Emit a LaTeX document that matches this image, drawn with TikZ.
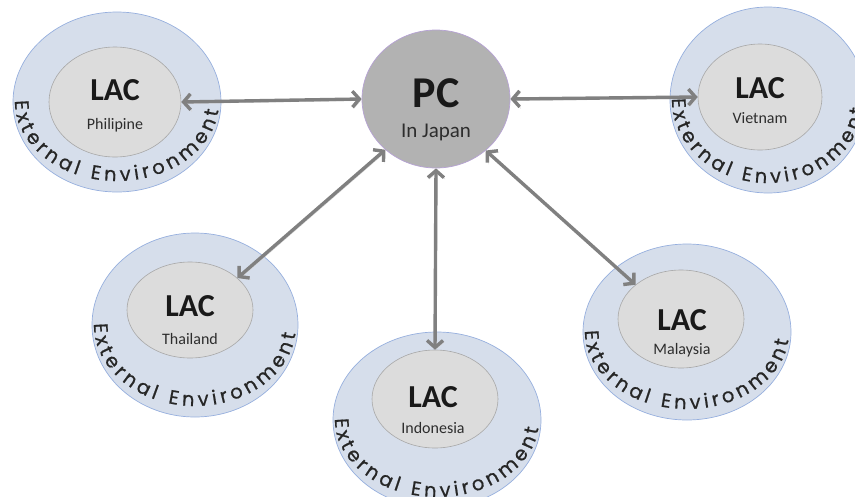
\documentclass[tikz,border=0pt]{standalone}
\usepackage{fontspec}
\setmainfont{Carlito}
\newfontfamily\extfont[FakeBold=0.7]{Poppins}
\usetikzlibrary{shapes.geometric,arrows.meta,decorations.text,calc}
\definecolor{ringfill}{RGB}{214,222,235}
\definecolor{ringdraw}{RGB}{150,175,222}
\definecolor{lacin}{RGB}{220,220,220}
\definecolor{lacout}{RGB}{195,195,195}
\definecolor{lacdraw}{RGB}{168,168,168}
\definecolor{pcfill}{RGB}{178,178,178}
\definecolor{pcdraw}{RGB}{182,162,212}
\definecolor{arrowc}{RGB}{128,128,128}
\definecolor{labc}{RGB}{45,45,45}
\pgfdeclareradialshading{lacshade}{\pgfpoint{0bp}{0bp}}{color(0bp)=(lacin); color(28bp)=(lacin); color(50bp)=(lacout)}
\newcommand\envtext[3]{%
  \path[decorate,decoration={text along path,text align=fit to path,
    text={|\extfont\fontsize{19.5}{20}\selectfont\color{black!85}|External Environment}}]
    ($(#1)+(179:#2 and #3)$) arc[start angle=179,end angle=354,x radius=#2,y radius=#3];}
\begin{document}
\begin{tikzpicture}[x=1pt,y=1pt,
  ring/.style={ellipse,draw=ringdraw,line width=0.7pt,fill=ringfill,inner sep=0pt},
  lac/.style={ellipse,draw=lacdraw,line width=0.6pt,shading=lacshade,inner sep=0pt},
  pcnode/.style={ellipse,draw=pcdraw,line width=0.7pt,fill=pcfill,inner sep=0pt},
  lactitle/.style={font=\bfseries\fontsize{32}{32}\selectfont,text=black!90,inner sep=0pt},
  lacname/.style={font=\fontsize{16}{16}\selectfont,text=labc,inner sep=0pt},
  biarrow/.style={draw=arrowc,line width=3.4pt,
    {Straight Barb[length=7pt,width=16pt]}-{Straight Barb[length=7pt,width=16pt]},
    preaction={draw=black!16,transform canvas={shift={(1.2pt,-1.6pt)}}}}]
\useasboundingbox (0,0) rectangle (855,-496);
% outer rings
\node[ring,minimum width=208,minimum height=180] (phiO) at (117,-102) {};
\node[ring,minimum width=196,minimum height=186] (vieO) at (768,-100) {};
\node[ring,minimum width=206,minimum height=184] (thaO) at (195,-325) {};
\node[ring,minimum width=208,minimum height=176] (indO) at (437,-420) {};
\node[ring,minimum width=208,minimum height=176] (malO) at (687,-332) {};
\envtext{phiO}{102pt}{79pt}
\envtext{vieO}{96pt}{83pt}
\envtext{thaO}{101pt}{81pt}
\envtext{indO}{102pt}{77pt}
\envtext{malO}{102pt}{77pt}
% inner LAC ellipses
\node[lac,minimum width=132,minimum height=110] (phi) at (115,-102) {};
\node[lac,minimum width=124,minimum height=106] (vie) at (760,-97) {};
\node[lac,minimum width=126,minimum height=96] (tha) at (190,-310) {};
\node[lac,minimum width=126,minimum height=98] (ind) at (435,-399) {};
\node[lac,minimum width=126,minimum height=98] (mal) at (681,-319) {};
\node[lactitle] (phiT) at (115,-90) {LAC};
\node[lacname] (phiN) at (115,-125) {Philipine};
\node[lactitle] (vieT) at (760,-88) {LAC};
\node[lacname] (vieN) at (760,-118) {Vietnam};
\node[lactitle] (thaT) at (190,-306) {LAC};
\node[lacname] (thaN) at (190,-339) {Thailand};
\node[lactitle] (indT) at (433,-397) {LAC};
\node[lacname] (indN) at (433,-428) {Indonesia};
\node[lactitle] (malT) at (682,-320) {LAC};
\node[lacname] (malN) at (682,-350) {Malaysia};
% PC
\node[pcnode,minimum width=148,minimum height=138] (pc) at (436,-99) {};
\node[font=\bfseries\fontsize{44}{44}\selectfont,text=black!90,inner sep=0pt] (pcT) at (436,-93) {PC};
\node[font=\fontsize{21}{21}\selectfont,text=labc,inner sep=0pt] (pcN) at (436,-132) {In Japan};
% arrows
\draw[biarrow] (phi.east) -- (pc.west);
\draw[biarrow] (pc.east) -- (vie.west);
\draw[biarrow] (tha.34) -- (pc.225);
\draw[biarrow] (pc.south) -- (ind.north);
\draw[biarrow] (pc.314) -- (mal.143);
\end{tikzpicture}
\end{document}
